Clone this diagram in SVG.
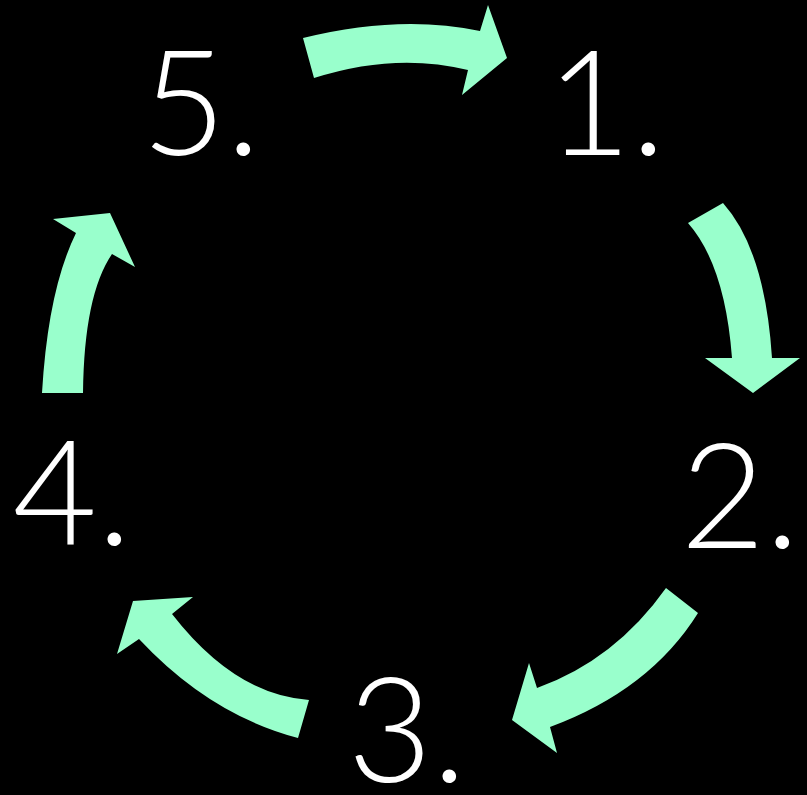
<svg xmlns="http://www.w3.org/2000/svg" width="807" height="795" viewBox="0 0 807 795">
<style>
.lbl{font-family:"Lato","Liberation Sans",sans-serif;font-weight:300;font-size:146px;fill:#ffffff;text-anchor:middle}
.arr{fill:#99ffcc;stroke:none}
</style>
<rect width="807" height="795" fill="#000000"/>
<g id="connectors">
<path class="arr" d="M303,38 Q400,14 480,31 L488,5 L507,58 L462,95 L468,70 Q395,52 314,78 Z"/>
<path class="arr" d="M688,223 L723,203 Q765,250 772,358 L800,358 L753,393 L705,358 L732,358 Q725,265 688,223 Z"/>
<path class="arr" d="M666,588 L698,613 Q650,690 550,727 L557,753 L512,720 L529,663 L537,688 Q615,660 666,588 Z"/>
<path class="arr" d="M309,700 L298,738 Q210,715 139,639 L117,654 L133,601 L193,597 L172,614 Q235,695 309,700 Z"/>
<path class="arr" d="M42,393 Q48,290 76,233 L53,219 L110,213 L135,267 L112,254 Q84,295 83,393 Z"/>
</g>
<g id="node1"><text class="lbl" x="606" y="155">1.</text></g>
<g id="node2"><text class="lbl" x="740" y="548">2.</text></g>
<g id="node3"><text class="lbl" x="407" y="782">3.</text></g>
<g id="node4"><text class="lbl" x="72" y="545">4.</text></g>
<g id="node5"><text class="lbl" x="201" y="155">5.</text></g>
</svg>
